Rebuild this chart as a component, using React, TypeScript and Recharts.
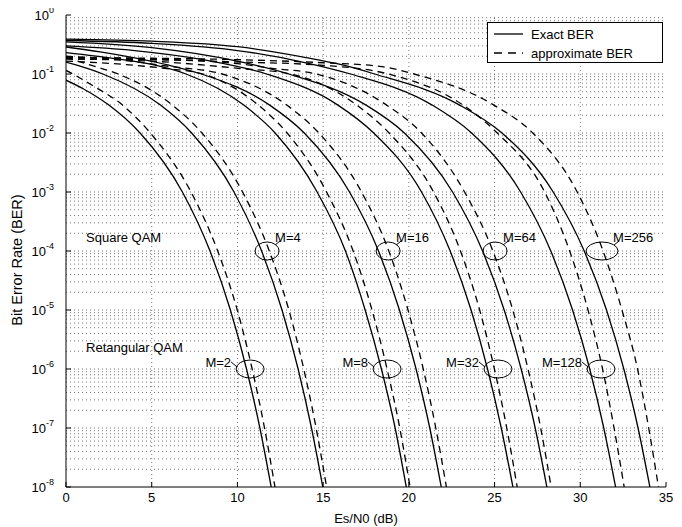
import React from 'react';
import { LineChart, Line, XAxis, YAxis, ReferenceLine, ReferenceDot, Legend } from 'recharts';

// ---------- axis ticks ----------
const xTicks = [0, 5, 10, 15, 20, 25, 30, 35];
const yTicks = [1e-8, 1e-7, 1e-6, 1e-5, 1e-4, 1e-3, 1e-2, 1e-1, 1];
const yTickExponents = ['-8', '-7', '-6', '-5', '-4', '-3', '-2', '-1', '0'];
const minorMultipliers = [2, 3, 4, 5, 6, 7, 8, 9];
const minorDecades = [1e-8, 1e-7, 1e-6, 1e-5, 1e-4, 1e-3, 1e-2, 1e-1];

// ---------- series: [Es/N0 (dB), BER] ----------
type Pt = [number, number];
const exactM2: Pt[] = [[0, 0.0786], [1, 0.0563], [2.48, 0.03], [4.32, 0.01], [6.79, 1e-3], [8.4, 1e-4], [9.59, 1e-5], [10.53, 1e-6], [11.31, 1e-7], [11.97, 1e-8]];
const approxM2: Pt[] = [[0, 0.115], [0.4, 0.1], [1.5, 0.065], [3.28, 0.03], [4.92, 0.01], [7.29, 1e-3], [8.85, 1e-4], [9.99, 1e-5], [10.86, 1e-6], [11.58, 1e-7], [12.19, 1e-8]];
const exactM4: Pt[] = [[0, 0.159], [1, 0.131], [2.15, 0.1], [5.49, 0.03], [7.33, 0.01], [9.8, 1e-3], [11.41, 1e-4], [12.6, 1e-5], [13.54, 1e-6], [14.32, 1e-7], [14.98, 1e-8]];
const approxM4: Pt[] = [[0, 0.19], [1.5, 0.14], [3.05, 0.1], [6.19, 0.03], [7.93, 0.01], [10.3, 1e-3], [11.86, 1e-4], [13.0, 1e-5], [13.87, 1e-6], [14.59, 1e-7], [15.2, 1e-8]];
const exactM8: Pt[] = [[0, 0.23], [3, 0.18], [5, 0.145], [7, 0.1], [10.35, 0.03], [12.2, 0.01], [14.65, 1e-3], [16.3, 1e-4], [17.45, 1e-5], [18.4, 1e-6], [19.2, 1e-7], [19.85, 1e-8]];
const approxM8: Pt[] = [[0, 0.165], [3, 0.148], [6, 0.122], [8, 0.1], [11.2, 0.03], [12.9, 0.01], [15.2, 1e-3], [16.75, 1e-4], [17.85, 1e-5], [18.73, 1e-6], [19.47, 1e-7], [20.07, 1e-8]];
const exactM16: Pt[] = [[0, 0.287], [2, 0.237], [4, 0.1875], [6, 0.141], [7.9, 0.1], [11.86, 0.03], [13.9, 0.01], [16.54, 1e-3], [18.23, 1e-4], [19.45, 1e-5], [20.42, 1e-6], [21.22, 1e-7], [21.89, 1e-8]];
const approxM16: Pt[] = [[0, 0.2], [3, 0.175], [6, 0.135], [9.1, 0.1], [12.86, 0.03], [14.75, 0.01], [17.24, 1e-3], [18.83, 1e-4], [19.95, 1e-5], [20.84, 1e-6], [21.57, 1e-7], [22.19, 1e-8]];
const exactM32: Pt[] = [[0, 0.3], [4, 0.25], [8, 0.175], [11.7, 0.1], [15.84, 0.03], [17.95, 0.01], [20.74, 1e-3], [22.41, 1e-4], [23.63, 1e-5], [24.59, 1e-6], [25.39, 1e-7], [26.07, 1e-8]];
const approxM32: Pt[] = [[0, 0.18], [5, 0.165], [10, 0.125], [13.1, 0.1], [16.94, 0.03], [18.85, 0.01], [21.44, 1e-3], [23.01, 1e-4], [24.13, 1e-5], [24.99, 1e-6], [25.71, 1e-7], [26.32, 1e-8]];
const exactM64: Pt[] = [[0, 0.35], [5, 0.28], [10, 0.165], [13, 0.1], [17.48, 0.03], [19.74, 0.01], [22.55, 1e-3], [24.3, 1e-4], [25.56, 1e-5], [26.55, 1e-6], [27.37, 1e-7], [28.05, 1e-8]];
const approxM64: Pt[] = [[0, 0.19], [5, 0.18], [10, 0.15], [12, 0.125], [14.6, 0.1], [18.68, 0.03], [20.74, 0.01], [23.25, 1e-3], [24.9, 1e-4], [26.06, 1e-5], [26.95, 1e-6], [27.69, 1e-7], [28.3, 1e-8]];
const exactM128: Pt[] = [[0, 0.37], [5, 0.33], [10, 0.25], [14, 0.155], [16.6, 0.1], [21.34, 0.03], [23.66, 0.01], [26.52, 1e-3], [28.28, 1e-4], [29.55, 1e-5], [30.55, 1e-6], [31.37, 1e-7], [32.06, 1e-8]];
const approxM128: Pt[] = [[0, 0.18], [5, 0.175], [10, 0.16], [15, 0.14], [18.8, 0.1], [23.14, 0.03], [25.16, 0.01], [27.92, 1e-3], [29.38, 1e-4], [30.45, 1e-5], [31.3, 1e-6], [31.97, 1e-7], [32.56, 1e-8]];
const exactM256: Pt[] = [[0, 0.39], [5, 0.36], [10, 0.29], [14, 0.19], [16, 0.145], [18, 0.1], [22.94, 0.03], [25.43, 0.01], [28.42, 1e-3], [30.23, 1e-4], [31.53, 1e-5], [32.54, 1e-6], [33.37, 1e-7], [34.06, 1e-8]];
const approxM256: Pt[] = [[0, 0.19], [5, 0.185], [10, 0.175], [15, 0.155], [18.3, 0.135], [20.3, 0.1], [24.94, 0.03], [27.23, 0.01], [29.82, 1e-3], [31.33, 1e-4], [32.43, 1e-5], [33.34, 1e-6], [33.99, 1e-7], [34.56, 1e-8]];

const series: { id: string; pts: Pt[]; dashed: boolean }[] = [
  { id: 'e2', pts: exactM2, dashed: false }, { id: 'a2', pts: approxM2, dashed: true },
  { id: 'e4', pts: exactM4, dashed: false }, { id: 'a4', pts: approxM4, dashed: true },
  { id: 'e8', pts: exactM8, dashed: false }, { id: 'a8', pts: approxM8, dashed: true },
  { id: 'e16', pts: exactM16, dashed: false }, { id: 'a16', pts: approxM16, dashed: true },
  { id: 'e32', pts: exactM32, dashed: false }, { id: 'a32', pts: approxM32, dashed: true },
  { id: 'e64', pts: exactM64, dashed: false }, { id: 'a64', pts: approxM64, dashed: true },
  { id: 'e128', pts: exactM128, dashed: false }, { id: 'a128', pts: approxM128, dashed: true },
  { id: 'e256', pts: exactM256, dashed: false }, { id: 'a256', pts: approxM256, dashed: true },
];

// ---------- annotations ----------
const squareLabels = ['M=4', 'M=16', 'M=64', 'M=256'];
const squareX = [11.73, 18.79, 25.03, 31.27];
const squareBER = 1e-4;
const rectLabels = ['M=2', 'M=8', 'M=32', 'M=128'];
const rectX = [10.74, 18.73, 25.2, 31.21];
const rectBER = 1e-6;
const groupTitles = ['Square QAM', 'Retangular QAM'];
const groupTitleX = [1.17, 1.17];
const groupTitleBER = [1.7e-4, 2.35e-6];
const legendLabels = ['Exact BER', 'approximate BER'];

const FONT = '"Liberation Sans", Arial, Helvetica, sans-serif';

const YTick = (props: any) => {
  const { x, y, payload } = props;
  const i = yTicks.indexOf(payload.value);
  if (i < 0) return null;
  return (
    <text x={x} y={y + 5} textAnchor="end" fontFamily={FONT} fontSize={13} fill="#000">
      <tspan>10</tspan>
      <tspan dy={-7} fontSize={9}>{yTickExponents[i]}</tspan>
    </text>
  );
};

const XTick = (props: any) => {
  const { x, y, payload } = props;
  return (
    <text x={x} y={y + 10} textAnchor="middle" fontFamily={FONT} fontSize={13} fill="#000">
      {payload.value}
    </text>
  );
};

const squareShape = (label: string, wide: boolean) => (p: any) => {
  const { cx, cy } = p;
  const rx = wide ? 16 : 12;
  return (
    <g>
      <ellipse cx={cx} cy={cy} rx={rx} ry={9} fill="none" stroke="#000" strokeWidth={1} />
      <line x1={cx + rx - 4} y1={cy - 6} x2={cx + rx + 1} y2={cy - 10} stroke="#000" strokeWidth={1} />
      <text x={cx + 8 + (wide ? 3 : 0)} y={cy - 9} fontFamily={FONT} fontSize={13} fill="#000">{label}</text>
    </g>
  );
};

const rectShape = (label: string) => (p: any) => {
  const { cx, cy } = p;
  const rx = 14;
  return (
    <g>
      <ellipse cx={cx} cy={cy} rx={rx} ry={9} fill="none" stroke="#000" strokeWidth={1} />
      <line x1={cx - rx + 1} y1={cy - 2} x2={cx - rx - 5} y2={cy - 7} stroke="#000" strokeWidth={1} />
      <text x={cx - rx - 5} y={cy - 2} textAnchor="end" fontFamily={FONT} fontSize={13} fill="#000">{label}</text>
    </g>
  );
};

const titleShape = (label: string) => (p: any) => (
  <text x={p.cx} y={p.cy + 5} fontFamily={FONT} fontSize={13} fill="#000">{label}</text>
);

const LegendBox = () => (
  <div style={{ width: 176, height: 41, boxSizing: 'border-box', border: '1px solid #000', background: '#fff' }}>
    <svg width={174} height={39} style={{ display: 'block' }}>
      <line x1={6} y1={11} x2={35} y2={11} stroke="#000" strokeWidth={1.3} />
      <text x={43} y={15.5} fontFamily={FONT} fontSize={13} fill="#000">{legendLabels[0]}</text>
      <line x1={6} y1={30} x2={35} y2={30} stroke="#000" strokeWidth={1.3} strokeDasharray="8 6" />
      <text x={43} y={34.5} fontFamily={FONT} fontSize={13} fill="#000">{legendLabels[1]}</text>
    </svg>
  </div>
);

const YLabel = (props: any) => {
  const vb = props.viewBox || {};
  const cx = 22;
  const cy = (vb.y ?? 15) + (vb.height ?? 472) / 2 + 9;
  return (
    <text x={cx} y={cy} transform={`rotate(-90 ${cx} ${cy})`} textAnchor="middle" fontFamily={FONT} fontSize={14.5} fill="#000">
      Bit Error Rate (BER)
    </text>
  );
};

const XLabel = (props: any) => {
  const vb = props.viewBox || {};
  const cx = (vb.x ?? 66) + (vb.width ?? 600) / 2;
  return (
    <text x={cx} y={523} textAnchor="middle" fontFamily={FONT} fontSize={13} fill="#000">
      Es/N0 (dB)
    </text>
  );
};

export default function App() {
  const minorY: number[] = [];
  minorDecades.forEach((d) => minorMultipliers.forEach((m) => minorY.push(d * m)));
  const gridStyle = { stroke: '#777', strokeWidth: 1, strokeDasharray: '1 3' };

  return (
    <div style={{ margin: '-8px 0 0 -8px', width: 682, height: 527 }}>
      <LineChart width={682} height={527} margin={{ top: 15, right: 16, bottom: 0, left: 0 }}>
        <XAxis xAxisId={0} type="number" dataKey="x" domain={[0, 35]} ticks={xTicks} allowDataOverflow
          tickSize={-5} tickMargin={10} tick={<XTick />} stroke="#000" height={40} label={<XLabel />} interval={0} />
        <XAxis xAxisId="top" orientation="top" type="number" dataKey="x" domain={[0, 35]} ticks={xTicks} allowDataOverflow
          tickSize={-5} tick={false} stroke="#000" height={0} interval={0} />
        <YAxis yAxisId="minorL" orientation="left" type="number" scale="log" domain={[1e-8, 1]} ticks={minorY} allowDataOverflow
          tickSize={-3} tick={false} axisLine={false} stroke="#000" width={0} interval={0} />
        <YAxis yAxisId={0} type="number" scale="log" domain={[1e-8, 1]} ticks={yTicks} allowDataOverflow
          tickSize={-5} tickMargin={17} tick={<YTick />} stroke="#000" width={66} label={<YLabel />} interval={0} />
        <YAxis yAxisId="right" orientation="right" type="number" scale="log" domain={[1e-8, 1]} ticks={yTicks} allowDataOverflow
          tickSize={-5} tick={false} stroke="#000" width={0} interval={0} />
        <YAxis yAxisId="minorR" orientation="right" type="number" scale="log" domain={[1e-8, 1]} ticks={minorY} allowDataOverflow
          tickSize={-3} tick={false} axisLine={false} stroke="#000" width={0} interval={0} />

        {xTicks.slice(1, -1).map((v) => (
          <ReferenceLine key={'gx' + v} x={v} {...gridStyle} />
        ))}
        {yTicks.slice(1, -1).map((v) => (
          <ReferenceLine key={'gy' + v} y={v} {...gridStyle} />
        ))}
        {minorY.map((v) => (
          <ReferenceLine key={'gm' + v} y={v} {...gridStyle} />
        ))}

        {series.map((s) => (
          <Line key={s.id} data={s.pts.map(([x, y]) => ({ x, y }))} dataKey="y" type="monotone"
            stroke="#000" strokeWidth={1.3} strokeDasharray={s.dashed ? '7 5' : undefined}
            dot={false} activeDot={false} isAnimationActive={false} legendType="none" />
        ))}

        {squareLabels.map((l, i) => (
          <ReferenceDot key={l} x={squareX[i]} y={squareBER} r={0} shape={squareShape(l, i === 3)} />
        ))}
        {rectLabels.map((l, i) => (
          <ReferenceDot key={l} x={rectX[i]} y={rectBER} r={0} shape={rectShape(l)} />
        ))}
        {groupTitles.map((t, i) => (
          <ReferenceDot key={t} x={groupTitleX[i]} y={groupTitleBER[i]} r={0} shape={titleShape(t)} />
        ))}

        <Legend layout="vertical" align="center" verticalAlign="middle"
          wrapperStyle={{ left: 487, top: 22, width: 176, height: 41, right: 'auto', bottom: 'auto' }}
          content={() => <LegendBox />} />
      </LineChart>
    </div>
  );
}
